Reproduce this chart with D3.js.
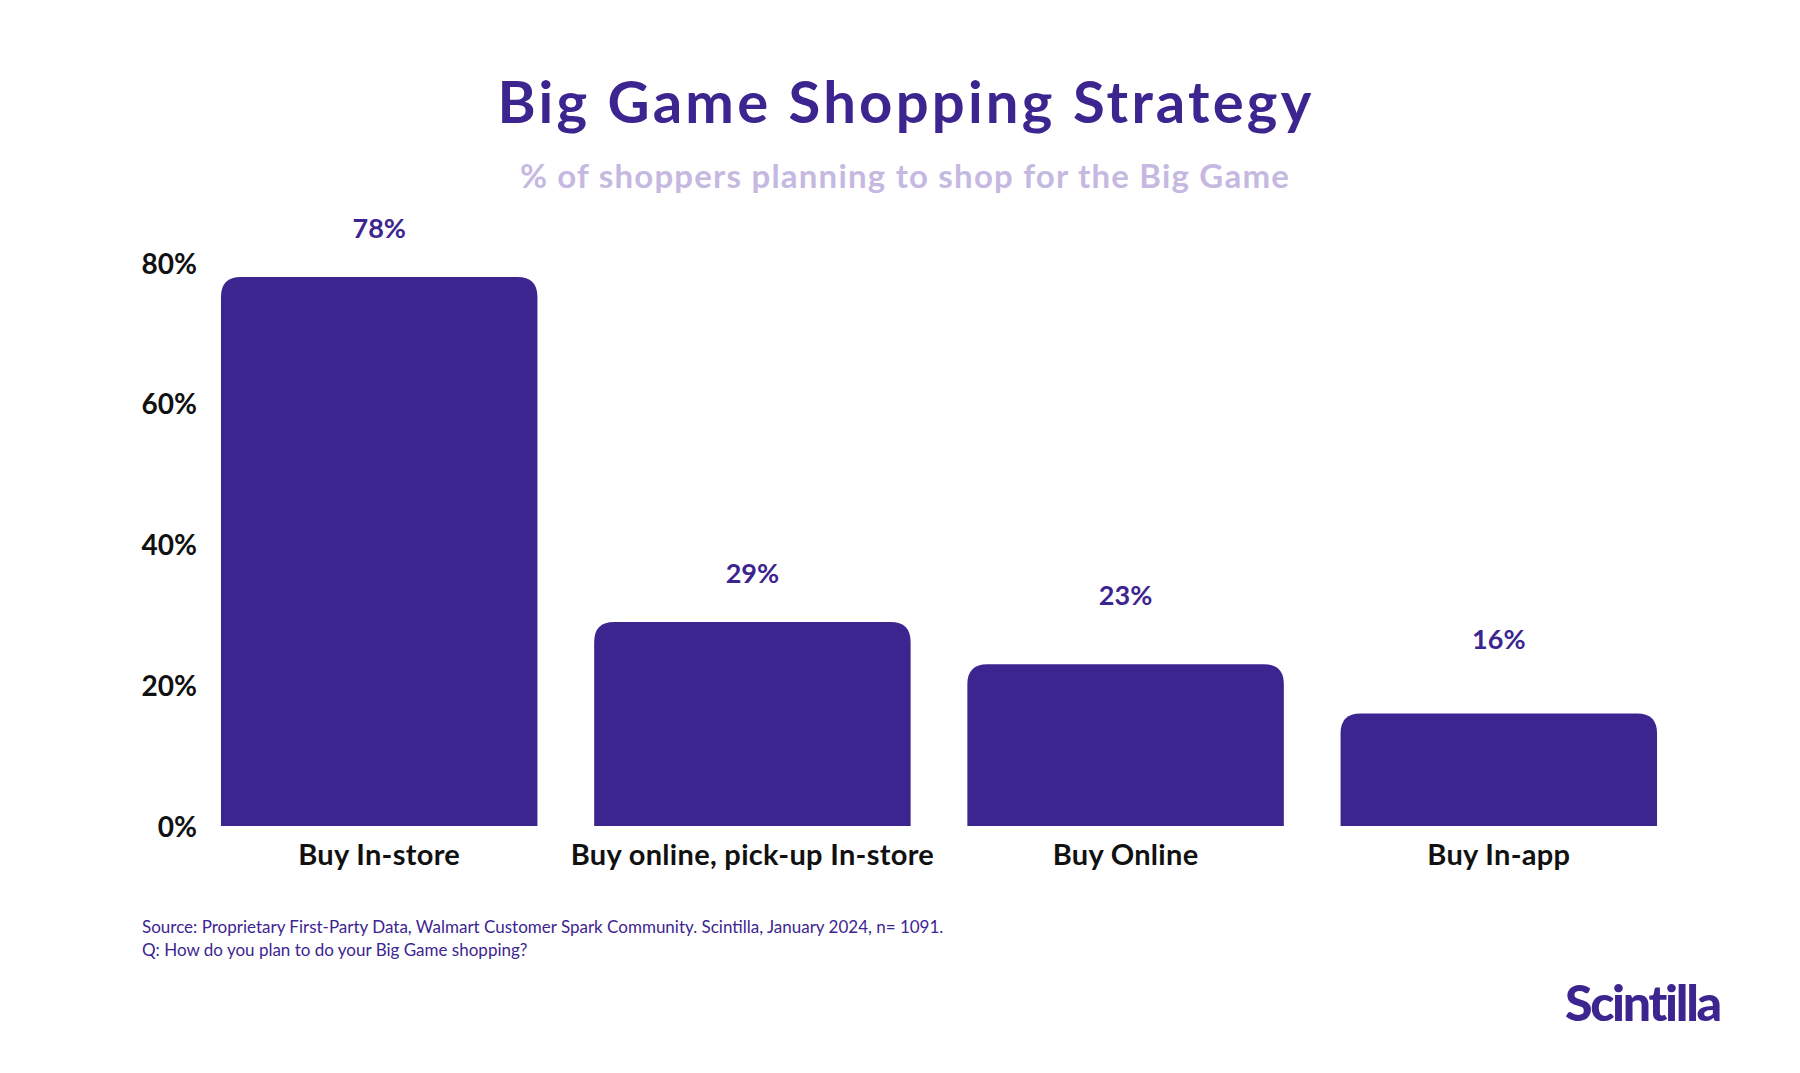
<!DOCTYPE html>
<html>
<head>
<meta charset="utf-8">
<script src="https://cdn.jsdelivr.net/npm/d3@7"></script>
<style>
  body { margin: 0; background: #fff; }
  svg { display: block; font-family: Lato, "Open Sans", sans-serif; }
</style>
</head>
<body>
<script>
// chart values
const categories = ["Buy In-store", "Buy online, pick-up In-store", "Buy Online", "Buy In-app"];
const shares = [78, 29, 23, 16];
const yTicks = [0, 20, 40, 60, 80];

const titleText = "Big Game Shopping Strategy";
const subtitleText = "% of shoppers planning to shop for the Big Game";
const notes = [
    "Source: Proprietary First-Party Data, Walmart Customer Spark Community. Scintilla, January 2024, n= 1091.",
    "Q: How do you plan to do your Big Game shopping?"
];

// gap between bar top and its value label, the original is not uniform
const labelLift = [39, 39, 59, 64];

const purple = "#3d2590";
const width = 1800, height = 1073;

const svg = d3.select("body").append("svg")
    .attr("width", width)
    .attr("height", height);

svg.append("rect").attr("width", width).attr("height", height).attr("fill", "#fff");

const x = d3.scaleBand()
    .domain(categories)
    .range([192.6, 1685.4])
    .paddingInner(0.152)
    .paddingOuter(0.076);

const y = d3.scaleLinear()
    .domain([0, 80])
    .range([826, 263]);

// bars with rounded top corners only
const r = 20;
const barPath = (d, i) => {
    const x0 = x(categories[i]), x1 = x0 + x.bandwidth();
    const top = y(d), bottom = y(0);
    return `M${x0},${bottom} V${top + r} Q${x0},${top} ${x0 + r},${top} H${x1 - r} Q${x1},${top} ${x1},${top + r} V${bottom} Z`;
};

svg.append("g").selectAll("path")
    .data(shares)
    .enter()
    .append("path")
    .attr("d", barPath)
    .attr("fill", purple);

// value labels above bars
svg.append("g").selectAll("text")
    .data(shares)
    .enter()
    .append("text")
    .attr("x", (d, i) => x(categories[i]) + x.bandwidth() / 2)
    .attr("y", (d, i) => y(d) - labelLift[i])
    .attr("text-anchor", "middle")
    .attr("font-size", 27)
    .attr("font-weight", 700)
    .attr("fill", purple)
    .text(d => d + "%");

// y axis
const yAxis = svg.append("g")
    .attr("transform", `translate(221,0)`)
    .call(d3.axisLeft(y).tickValues(yTicks).tickSize(0).tickPadding(24).tickFormat(d => d + "%"));
yAxis.select(".domain").remove();
yAxis.selectAll("text")
    .attr("font-family", "Lato, sans-serif")
    .attr("font-size", 28)
    .attr("font-weight", 700)
    .attr("fill", "#111")
    .attr("dy", "0.36em");

// x axis
const xAxis = svg.append("g")
    .attr("transform", `translate(0,${y(0)})`)
    .call(d3.axisBottom(x).tickSize(0).tickPadding(18));
xAxis.select(".domain").remove();
xAxis.selectAll("text")
    .attr("font-family", "Lato, sans-serif")
    .attr("font-size", 29)
    .attr("font-weight", 700)
    .attr("letter-spacing", 0.3)
    .attr("fill", "#111");

// titles
svg.append("text")
    .attr("x", 906)
    .attr("y", 123)
    .attr("text-anchor", "middle")
    .attr("font-size", 58)
    .attr("font-weight", 700)
    .attr("letter-spacing", 3.2)
    .attr("fill", purple)
    .text(titleText);

svg.append("text")
    .attr("x", 905)
    .attr("y", 188)
    .attr("text-anchor", "middle")
    .attr("font-size", 33)
    .attr("font-weight", 700)
    .attr("letter-spacing", 1.2)
    .attr("fill", "#c5b9e2")
    .text(subtitleText);

// footnotes
svg.append("g").selectAll("text")
    .data(notes)
    .enter()
    .append("text")
    .attr("x", 142)
    .attr("y", (d, i) => 933 + i * 23)
    .attr("font-size", 17)
    .attr("fill", purple)
    .text(d => d);

// logo
svg.append("text")
    .attr("x", 1565)
    .attr("y", 1021)
    .attr("font-size", 50)
    .attr("font-weight", 900)
    .attr("letter-spacing", -2.3)
    .attr("fill", purple)
    .text("Scintilla");
</script>
</body>
</html>
